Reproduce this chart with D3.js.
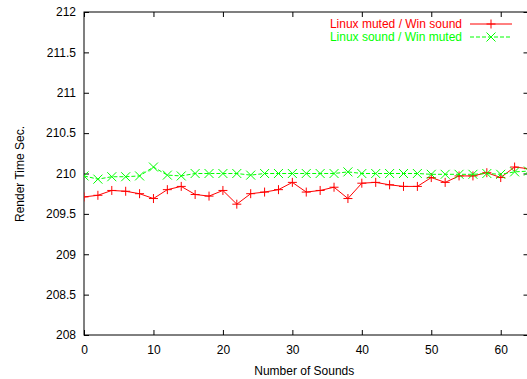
<!DOCTYPE html>
<html>
<head>
<meta charset="utf-8">
<script src="https://cdn.jsdelivr.net/npm/d3@7"></script>
<style>
  body { margin: 0; background: #fff; }
  svg { display: block; font-family: "Liberation Sans", Arial, sans-serif; }
</style>
</head>
<body>
<div id="chart"></div>
<script>
(function(){
    "use strict";

    var sounds = [0, 2, 4, 6, 8, 10, 12, 14, 16, 18, 20, 22, 24, 26, 28, 30, 32,
                  34, 36, 38, 40, 42, 44, 46, 48, 50, 52, 54, 56, 58, 60, 62, 64];
    var linuxMuted = [209.71, 209.73, 209.79, 209.78, 209.75, 209.69, 209.80, 209.84, 209.74,
                      209.72, 209.79, 209.62, 209.75, 209.77, 209.80, 209.89, 209.77, 209.79,
                      209.83, 209.69, 209.88, 209.89, 209.86, 209.84, 209.84, 209.95, 209.89,
                      209.97, 209.97, 210.01, 209.95, 210.08, 210.06];
    var linuxSound = [209.97, 209.93, 209.96, 209.96, 209.97, 210.08, 209.98, 209.97, 210.00,
                      210.00, 210.00, 210.00, 209.98, 210.00, 210.00, 210.00, 210.00, 210.00,
                      210.00, 210.02, 210.00, 210.00, 210.00, 210.00, 210.00, 209.99, 209.99,
                      209.99, 209.99, 210.00, 209.99, 210.02, 210.03];
    var xTicks = [0, 10, 20, 30, 40, 50, 60];
    var yTicks = [208, 208.5, 209, 209.5, 210, 210.5, 211, 211.5, 212];

    var series = [
        { name: "Linux muted / Win sound", values: linuxMuted, color: "#ff0000", dash: null, mark: "plus" },
        { name: "Linux sound / Win muted", values: linuxSound, color: "#00ff00", dash: "4,2", mark: "cross" }
    ];

    var width = 527, height = 379;
    var left = 84, right = 528.5, top = 12, bottom = 335;

    var svg = d3.select("#chart").append("svg")
        .attr("width", width)
        .attr("height", height);

    var x = d3.scaleLinear().domain([0, 64]).range([left, right]);
    var y = d3.scaleLinear().domain([208, 212]).range([bottom, top]);

    // axes with inward ticks
    var xAxis = svg.append("g")
        .attr("transform", "translate(0," + bottom + ")")
        .call(d3.axisBottom(x).tickValues(xTicks).tickSizeInner(-5).tickSizeOuter(0).tickPadding(10).tickFormat(d3.format("d")));
    var yAxis = svg.append("g")
        .attr("transform", "translate(" + left + ",0)")
        .call(d3.axisLeft(y).tickValues(yTicks).tickSizeInner(-5).tickSizeOuter(0).tickPadding(8).tickFormat(d3.format("")));
    svg.append("g")
        .attr("transform", "translate(0," + top + ")")
        .call(d3.axisTop(x).tickValues(xTicks).tickSizeInner(-5).tickSizeOuter(0).tickFormat(""));
    svg.append("g")
        .attr("transform", "translate(" + right + ",0)")
        .call(d3.axisRight(y).tickValues(yTicks).tickSizeInner(-5).tickSizeOuter(0).tickFormat(""));

    svg.selectAll(".domain").remove();
    svg.selectAll(".tick line").attr("stroke", "#000");
    svg.selectAll(".tick text").attr("font-size", 12).attr("fill", "#000")
        .attr("font-family", "'Liberation Sans', Arial, sans-serif");

    svg.append("rect")
        .attr("x", left).attr("y", top)
        .attr("width", right - left).attr("height", bottom - top)
        .attr("fill", "none").attr("stroke", "#000").attr("stroke-width", 1);

    // axis titles
    svg.append("text")
        .attr("x", (left + right) / 2 - 2)
        .attr("y", 375)
        .attr("text-anchor", "middle")
        .attr("font-size", 12)
        .text("Number of Sounds");
    svg.append("text")
        .attr("transform", "translate(24,174) rotate(-90)")
        .attr("text-anchor", "middle")
        .attr("font-size", 12)
        .text("Render Time Sec.");

    svg.append("clipPath").attr("id", "plotclip")
        .append("rect").attr("x", left).attr("y", top)
        .attr("width", right - left).attr("height", bottom - top);

    var plot = svg.append("g").attr("clip-path", "url(#plotclip)");

    function marker(g, type, cx, cy, color) {
        var r = 4.5;
        if (type === "plus") {
            g.append("path").attr("d", "M" + (cx - r) + "," + cy + "H" + (cx + r) + "M" + cx + "," + (cy - r) + "V" + (cy + r))
                .attr("stroke", color).attr("fill", "none");
        } else {
            g.append("path").attr("d", "M" + (cx - r) + "," + (cy - r) + "L" + (cx + r) + "," + (cy + r) +
                "M" + (cx - r) + "," + (cy + r) + "L" + (cx + r) + "," + (cy - r))
                .attr("stroke", color).attr("fill", "none");
        }
    }

    var line = d3.line()
        .x(function(d, i) { return x(sounds[i]); })
        .y(function(d) { return y(d); });

    series.forEach(function(s) {
        plot.append("path")
            .datum(s.values)
            .attr("d", line)
            .attr("fill", "none")
            .attr("stroke", s.color)
            .attr("stroke-width", 1)
            .attr("stroke-dasharray", s.dash);
        s.values.forEach(function(v, i) {
            marker(plot, s.mark, x(sounds[i]), y(v), s.color);
        });
    });

    // legend
    var legend = svg.append("g");
    series.forEach(function(s, i) {
        var ly = 24 + i * 13;
        legend.append("text")
            .attr("x", 462).attr("y", ly)
            .attr("dy", "0.35em")
            .attr("text-anchor", "end")
            .attr("font-size", 12)
            .attr("fill", s.color)
            .text(s.name);
        legend.append("line")
            .attr("x1", 470).attr("x2", 512)
            .attr("y1", ly).attr("y2", ly)
            .attr("stroke", s.color)
            .attr("stroke-dasharray", s.dash);
        marker(legend, s.mark, 491, ly, s.color);
    });
})();
</script>
</body>
</html>
